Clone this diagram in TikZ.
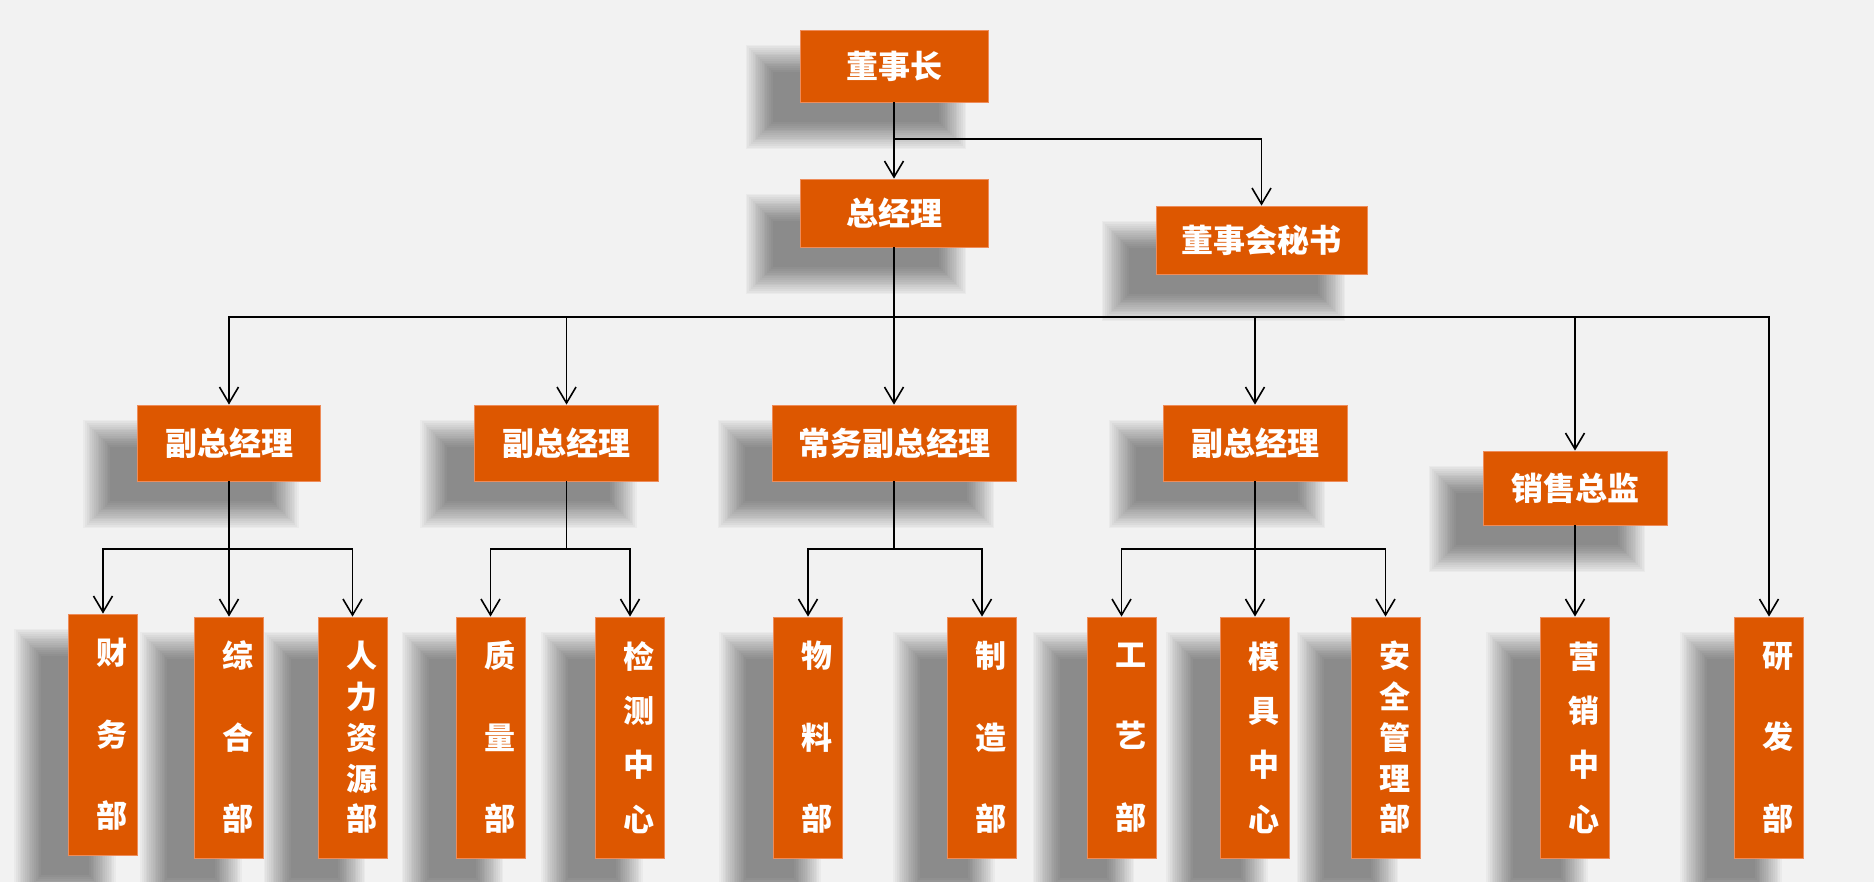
\documentclass[tikz,border=0pt]{standalone}
\usepackage{fontspec}
\usepackage{xcolor}
\usetikzlibrary{arrows.meta}
\newfontfamily\cjk{Noto Sans CJK SC}
\definecolor{boxfill}{RGB}{221,87,0}
\definecolor{boxedge}{RGB}{238,140,90}
\definecolor{bgcol}{RGB}{242,242,242}
\pgfdeclarelayer{back}
\pgfdeclarelayer{shade}
\pgfsetlayers{back,shade,main}

\begin{document}
\begin{tikzpicture}[x=1pt,y=-1pt,
    post/.style={draw=boxedge,line width=0.8pt,fill=boxfill,text=white,inner sep=0pt,
        font=\cjk\bfseries\fontsize{32}{38}\selectfont},
    dept/.style={post,minimum width=69pt,minimum height=241pt,
        text width=49pt,align=right,inner xsep=10pt},
    dept3/.style={dept,font=\cjk\bfseries\fontsize{31}{81.5}\selectfont},
    dept4/.style={dept,font=\cjk\bfseries\fontsize{31}{54.3}\selectfont},
    dept5/.style={dept,font=\cjk\bfseries\fontsize{31}{40.8}\selectfont},
    blob/.style={fill=black,opacity=0.032},
    link/.style={-{Straight Barb[length=16pt,width=19pt]},line width=1.6pt}]
\useasboundingbox (0,0) rectangle (1874,882);
\begin{pgfonlayer}{back}
\fill[bgcol] (0,0) rectangle (1874,882);
\end{pgfonlayer}

% top
\node[post,minimum width=188pt,minimum height=72pt] (chair) at (894,66) {董事长};
\node[post,minimum width=188pt,minimum height=68pt] (gm) at (894,213) {总经理};
\node[post,minimum width=211pt,minimum height=68pt] (sec) at (1261.5,240) {董事会秘书};

% second level
\node[post,minimum width=183pt,minimum height=76pt] (vp1) at (229,443) {副总经理};
\node[post,minimum width=184pt,minimum height=76pt] (vp2) at (566.5,443) {副总经理};
\node[post,minimum width=244pt,minimum height=76pt] (evp) at (894,443) {常务副总经理};
\node[post,minimum width=184pt,minimum height=76pt] (vp3) at (1255,443) {副总经理};
\node[post,minimum width=184pt,minimum height=74pt] (sales) at (1575,488) {销售总监};

% departments
\node[dept3] (fin) at (103,734.5) {财\\务\\部};
\node[dept3] (gen) at (229,737.5) {综\\合\\部};
\node[dept5] (hr) at (352.5,737.5) {人\\力\\资\\源\\部};
\node[dept3] (qa) at (490.5,737.5) {质\\量\\部};
\node[dept4] (test) at (630,737.5) {检\\测\\中\\心};
\node[dept3] (mat) at (808,737.5) {物\\料\\部};
\node[dept3] (mfg) at (982,737.5) {制\\造\\部};
\node[dept3] (proc) at (1121.5,737.5) {工\\艺\\部};
\node[dept4] (mold) at (1255,737.5) {模\\具\\中\\心};
\node[dept5] (safe) at (1385.5,737.5) {安\\全\\管\\理\\部};
\node[dept4] (mkt) at (1575,737.5) {营\\销\\中\\心};
\node[dept3] (rd) at (1769,737.5) {研\\发\\部};

% soft shadows, offset down-left
\begin{pgfonlayer}{shade}
\foreach \n in {chair,gm,sec,vp1,vp2,evp,vp3,sales,
        fin,gen,hr,qa,test,mat,mfg,proc,mold,safe,mkt,rd}
    \foreach \k in {0,...,15}
        \fill[blob] ([shift={(-54+1.8*\k,15+1.8*\k)}]\n.north west)
            rectangle ([shift={(-22-1.8*\k,47-1.8*\k)}]\n.south east);
\end{pgfonlayer}

\coordinate (j0) at (0,139);
\coordinate (bus) at (0,317);
\coordinate (sub) at (0,549);

\draw[link] (chair.south) -- (gm.north);
\draw[link] (chair.south |- j0) -| (sec.north);
\foreach \n in {vp1,vp2,evp,vp3,sales,rd}
    \draw[link] (gm.south) -- (gm.south |- bus) -| (\n.north);
\foreach \p/\c in {vp1/fin,vp1/gen,vp1/hr,vp2/qa,vp2/test,evp/mat,evp/mfg,
        vp3/proc,vp3/mold,vp3/safe}
    \draw[link] (\p.south) -- (\p.south |- sub) -| (\c.north);
\draw[link] (sales.south) -- (mkt.north);
\end{tikzpicture}
\end{document}
